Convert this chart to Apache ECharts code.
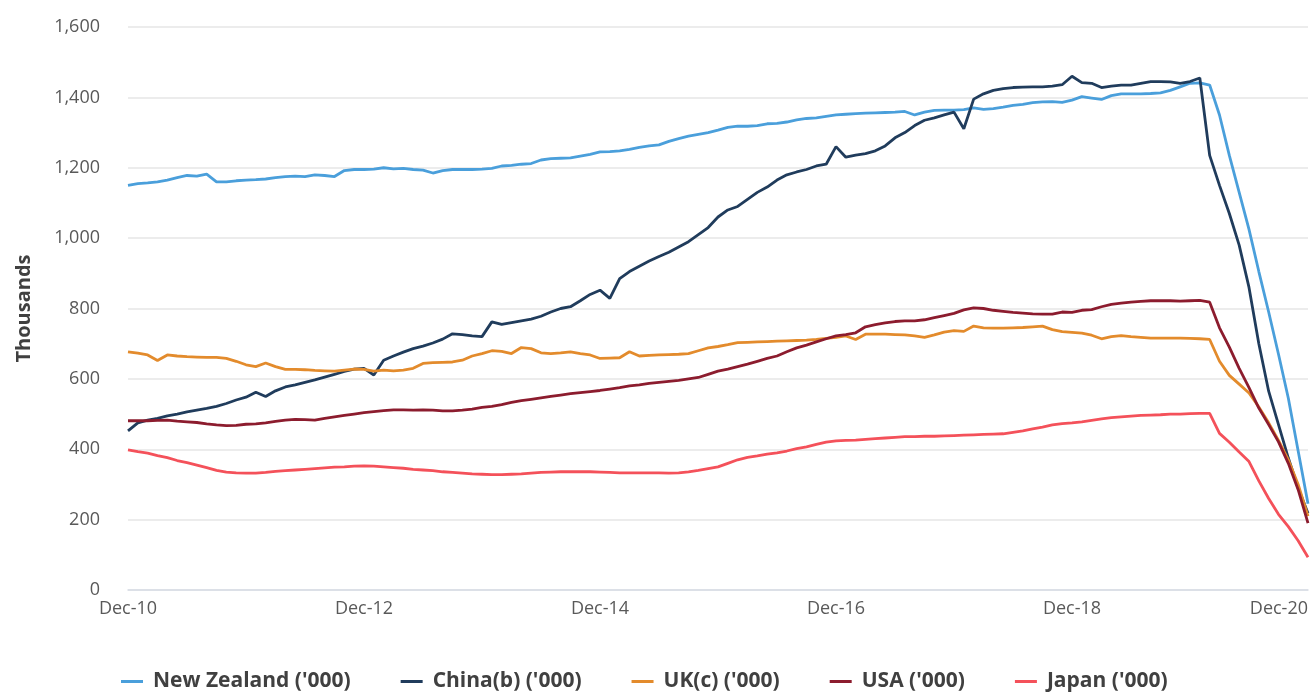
<!DOCTYPE html>
<html lang="en">
<head>
    <meta charset="UTF-8">
    <title>Visitor arrivals</title>
    <script src="https://cdn.jsdelivr.net/npm/echarts@6.0.0/dist/echarts.min.js"></script>
    <style>
        html, body { margin: 0; padding: 0; background: #fff; }
    </style>
</head>
<body>
    <div id="main" style="width: 1312px;height:698px;"></div>
    <script type="text/javascript">
        // monthly categories, Dec-10 .. Dec-20
        const monthNames = ['Jan', 'Feb', 'Mar', 'Apr', 'May', 'Jun', 'Jul', 'Aug', 'Sep', 'Oct', 'Nov', 'Dec'];
        const categories = ['Dec-10'];
        for (let y = 11; y <= 20; y++) {
            monthNames.forEach(m => categories.push(m + '-' + y));
        }

        const seriesNames = ["New Zealand ('000)", "China(b) ('000)", "UK(c) ('000)", "USA ('000)", "Japan ('000)"];

        const newZealand = [
            1150, 1155, 1157, 1160, 1165, 1172, 1178, 1176, 1182, 1160, 1160, 1163,
            1165, 1166, 1168, 1172, 1175, 1176, 1175, 1180, 1178, 1175, 1192, 1195,
            1195, 1196, 1200, 1197, 1198, 1195, 1193, 1185, 1192, 1195, 1195, 1195,
            1196, 1198, 1205, 1207, 1210, 1212, 1222, 1226, 1227, 1228, 1233, 1238,
            1245, 1246, 1248, 1252, 1258, 1262, 1265, 1275, 1283, 1290, 1295, 1300,
            1307, 1315, 1318, 1318, 1320, 1325, 1326, 1330, 1336, 1340, 1342, 1346,
            1350, 1352, 1354, 1355, 1356, 1357, 1358, 1360, 1350, 1358, 1363, 1364,
            1364, 1365, 1370, 1366, 1368, 1372, 1377, 1380, 1385, 1387, 1388, 1386,
            1392, 1402, 1398, 1394, 1405, 1410, 1410, 1410, 1411, 1413, 1420, 1430,
            1440, 1441, 1435, 1350, 1235, 1130, 1025, 905, 790, 670, 545, 395,
            245
        ];
        const china = [
            452, 475, 483, 488, 495, 500, 506, 511, 516, 522, 530, 540,
            548, 562, 550, 566, 577, 583, 590, 597, 605, 613, 621, 628,
            630, 611, 653, 665, 676, 686, 693, 702, 713, 728, 726, 722,
            720, 762, 755, 760, 765, 770, 778, 790, 800, 805, 822, 840,
            852, 829, 885, 905, 920, 935, 948, 960, 975, 990, 1010, 1030,
            1060, 1080, 1090, 1110, 1130, 1145, 1165, 1180, 1188, 1195, 1205, 1210,
            1260, 1230, 1236, 1240, 1248, 1262, 1285, 1300, 1320, 1335, 1342, 1350,
            1358, 1311, 1395, 1410, 1420, 1425, 1428, 1429, 1430, 1430, 1432, 1436,
            1460, 1442, 1440, 1428, 1432, 1435, 1435, 1440, 1445, 1445, 1444, 1440,
            1445, 1455, 1235, 1150, 1070, 980, 860, 700, 565, 470, 375, 290,
            218
        ];
        const uk = [
            677, 673, 668, 652, 668, 665, 663, 662, 661, 661, 658, 650,
            640, 635, 645, 635, 627, 627, 626, 624, 623, 622, 625, 628,
            627, 622, 625, 623, 625, 630, 644, 646, 647, 648, 653, 665,
            672, 680, 678, 672, 689, 686, 674, 672, 674, 677, 672, 668,
            658, 659, 660, 677, 665, 667, 668, 669, 670, 672, 680, 688,
            692, 697, 703, 704, 705, 706, 707, 708, 709, 710, 712, 715,
            718, 722, 712, 727, 727, 727, 726, 725, 722, 718, 725, 733,
            737, 735, 750, 745, 744, 744, 745, 746, 748, 750, 740, 734,
            732, 730, 724, 714, 720, 723, 720, 718, 716, 716, 716, 716,
            715, 714, 712, 650, 610, 585, 560, 520, 475, 425, 370, 300,
            210
        ];
        const usa = [
            481, 481, 481, 482, 483, 480, 478, 476, 472, 469, 467, 468,
            471, 472, 475, 479, 483, 485, 484, 483, 488, 492, 496, 500,
            504, 507, 510, 512, 512, 511, 512, 511, 509, 509, 511, 514,
            519, 522, 527, 533, 538, 542, 546, 550, 554, 558, 561, 564,
            567, 571, 575, 580, 583, 587, 590, 593, 596, 600, 604, 613,
            622, 628, 635, 642, 650, 658, 665, 677, 688, 696, 705, 714,
            722, 726, 731, 748, 754, 759, 763, 765, 765, 768, 774, 780,
            786, 796, 802, 800, 795, 792, 789, 787, 785, 784, 784, 790,
            789, 795, 797, 805, 812, 815, 818, 820, 822, 822, 822, 821,
            822, 823, 818, 745, 690, 630, 575, 517, 470, 421, 360, 285,
            190
        ];
        const japan = [
            398, 393, 389, 382, 376, 368, 362, 355, 348, 340, 335, 333,
            332, 332, 334, 337, 339, 341, 343, 345, 347, 349, 350, 352,
            353, 352, 350, 348, 346, 343, 341, 339, 336, 334, 332, 330,
            329, 328, 328, 329, 330, 332, 334, 335, 336, 336, 336, 336,
            335, 334, 333, 333, 333, 333, 333, 332, 333, 336, 340, 345,
            350, 360, 370, 377, 381, 386, 390, 395, 402, 407, 414, 420,
            424, 425, 426, 428, 430, 432, 434, 436, 436, 437, 437, 438,
            439, 440, 441, 442, 443, 444, 448, 452, 458, 463, 469, 473,
            475, 478, 482, 486, 490, 492, 494, 496, 497, 498, 500, 500,
            501, 502, 502, 445, 420, 392, 365, 310, 260, 215, 180, 140,
            93
        ];
        const seriesColors = ['#4A9FDB', '#203C5C', '#E38B2C', '#8C1C2E', '#F4515A'];
        const seriesData = [newZealand, china, uk, usa, japan];

        const textColor = '#595959';
        const fontFamily = '"Open Sans", "Noto Sans", sans-serif';

        let myChart = echarts.init(document.getElementById('main'));
        let options = {
            animation: false,
            textStyle: { fontFamily: fontFamily },
            grid: { left: 128, right: 4, top: 27, bottom: 108 },
            legend: {
                bottom: 1,
                left: 116,
                icon: 'rect',
                itemWidth: 22,
                itemHeight: 3,
                itemGap: 50,
                textStyle: {
                    color: '#404040', fontSize: 21, fontWeight: 'bold',
                    fontFamily: fontFamily, padding: [0, 0, 0, 5]
                },
                data: seriesNames
            },
            xAxis: {
                type: 'category',
                boundaryGap: false,
                data: categories,
                axisTick: { show: false },
                axisLine: { lineStyle: { color: '#d6dce5', width: 1.5 } },
                axisLabel: {
                    interval: 23,
                    color: textColor,
                    fontSize: 18,
                    margin: 10,
                    alignMaxLabel: 'right'
                }
            },
            yAxis: {
                type: 'value',
                min: 0,
                max: 1600,
                interval: 200,
                name: 'Thousands',
                nameLocation: 'middle',
                nameGap: 94,
                nameTextStyle: { color: '#404040', fontSize: 20, fontWeight: 'bold' },
                axisLabel: { color: textColor, fontSize: 18, margin: 28 },
                splitLine: { lineStyle: { color: '#e6e6e6', width: 1.5 } }
            },
            series: seriesNames.map((name, k) => ({
                name: name,
                type: 'line',
                data: seriesData[k],
                showSymbol: false,
                lineStyle: { width: 2.8, color: seriesColors[k] },
                itemStyle: { color: seriesColors[k] }
            }))
        };
        myChart.setOption(options);
    </script>
</body>
</html>
